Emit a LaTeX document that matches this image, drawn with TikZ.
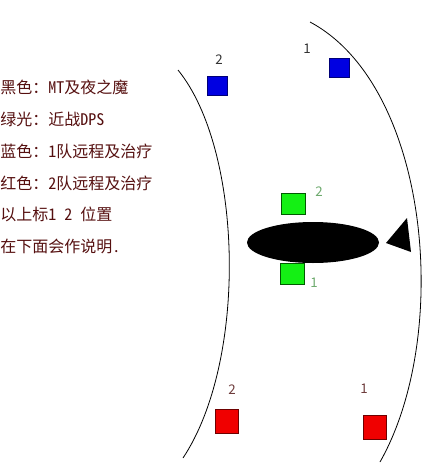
\documentclass[tikz,border=0pt]{standalone}
\usepackage{fontspec}
\setmainfont{Noto Sans CJK SC}
\newfontfamily\halfw[CharacterWidth=Half]{Noto Sans CJK SC}
\usepackage{tikz}

\definecolor{txtred}{RGB}{85,15,15}
\definecolor{sqblue}{RGB}{0,0,225}
\definecolor{sqgreen}{RGB}{20,240,20}
\definecolor{sqred}{RGB}{240,0,0}

\tikzset{
  note/.style={anchor=west,inner sep=0pt,text=txtred,font=\fontsize{12}{14}\selectfont},
  num/.style={inner sep=0.75pt,font=\fontsize{10}{12}\selectfont},
  blubox/.style={draw={rgb,255:red,0;green,0;blue,120},fill=sqblue,inner sep=0pt,minimum width=15pt,minimum height=14.5pt},
  grnbox/.style={draw={rgb,255:red,0;green,90;blue,0},fill=sqgreen,inner sep=0pt,minimum width=18pt,minimum height=15.5pt},
  redbox/.style={draw={rgb,255:red,110;green,0;blue,0},fill=sqred,inner sep=0pt,minimum width=17.5pt,minimum height=18pt}
}

\begin{document}
\begin{tikzpicture}[x=0.75pt,y=0.75pt,yscale=-1]
\useasboundingbox (0,0) rectangle (448,468);

%Curve Lines
\draw [line width=0.6]   (178,70) .. controls (243,150) and (248,360) .. (183,458) ;
%Curve Lines
\draw [line width=0.6]   (310,22) .. controls (430,86) and (452,335) .. (380,462) ;

%Shape: Ellipse
\fill (313,242.5) ellipse [x radius=66, y radius=20.5];
%Shape: Triangle
\fill (386,243) -- (407,218) -- (411,252) -- cycle;

%Shape: Squares
\node [blubox] (blue2) at (217,85.5) {};
\node [blubox] (blue1) at (339,67.5) {};
\node [grnbox] (green2) at (293.5,203.5) {};
\node [grnbox] (green1) at (292,274) {};
\node [redbox] (red2) at (227,421) {};
\node [redbox] (red1) at (375,427) {};

% Text Node
\node [num,text=black!80] (blue2num) at (219,60) {2};
\node [num,text=black!80] (blue1num) at (307,49) {1};
\node [num,text={rgb,255:red,110;green,170;blue,110}] (green2num) at (319,192) {2};
\node [num,text={rgb,255:red,110;green,170;blue,110}] (green1num) at (314,283) {1};
\node [num,text={rgb,255:red,110;green,60;blue,60}] (red2num) at (232,390) {2};
\node [num,text={rgb,255:red,110;green,60;blue,60}] (red1num) at (364,389) {1};

% Text Node
\node [note] (line1) at (0,87) {黑色：{\halfw MT}及夜之魔};
\node [note] (line2) at (0,119) {绿光：近战{\halfw DPS}};
\node [note] (line3) at (0,151) {蓝色：{\halfw 1}队远程及治疗};
\node [note] (line4) at (0,183) {红色：{\halfw 2}队远程及治疗};
\node [note] (line5) at (0,214) {以上标{\halfw 1 2 }位置};
\node [note] (line6) at (0,246) {在下面会作说明{\halfw .}};

\end{tikzpicture}
\end{document}
